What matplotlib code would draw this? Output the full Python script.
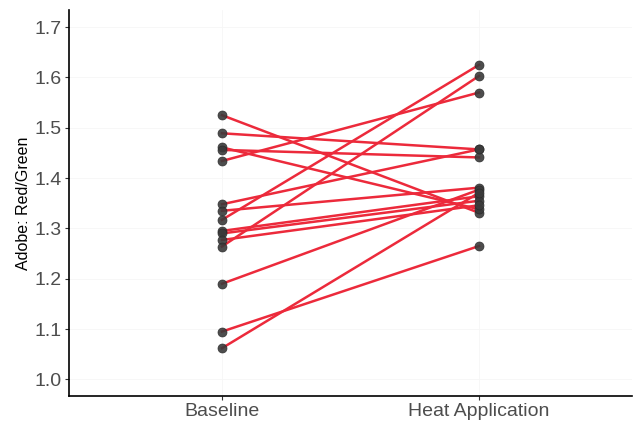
import matplotlib.pyplot as plt

plt.rcParams['font.family'] = ['Liberation Sans', 'DejaVu Sans']

conditions = ["Baseline", "Heat Application"]
baseline = [1.525, 1.489, 1.461, 1.456, 1.434, 1.348, 1.335, 1.317,
            1.295, 1.290, 1.277, 1.264, 1.190, 1.095, 1.062]
heat = [1.331, 1.457, 1.338, 1.441, 1.570, 1.457, 1.381, 1.625,
        1.364, 1.355, 1.346, 1.603, 1.377, 1.265, 1.371]
yticks = [1.0, 1.1, 1.2, 1.3, 1.4, 1.5, 1.6, 1.7]

fig = plt.figure(figsize=(6.35, 4.21), dpi=100)
ax = fig.add_axes([69/635, 25/421, 563/635, 386/421])

x = [1, 2]
for b, h in zip(baseline, heat):
    ax.plot(x, [b, h], color="#ec2a3b", lw=1.8, zorder=2)
ax.scatter([1]*len(baseline), baseline, s=42, color="#3a3a3a", alpha=0.9,
           edgecolors="#2a2a2a", linewidths=0.5, zorder=3)
ax.scatter([2]*len(heat), heat, s=42, color="#3a3a3a", alpha=0.9,
           edgecolors="#2a2a2a", linewidths=0.5, zorder=3)

ax.set_xlim(0.405, 2.595)
ax.set_ylim(0.967, 1.734)
ax.set_xticks(x)
ax.set_xticklabels(conditions)
ax.set_yticks(yticks)
ax.set_yticklabels([f"{v:.1f}" for v in yticks])
ax.set_ylabel("Adobe: Red/Green", fontsize=11.5, color="black")
ax.yaxis.set_label_coords(-0.068, 0.5)

ax.tick_params(axis="both", labelsize=14, labelcolor="#4d4d4d", length=3,
               width=0.8, color="#333333", pad=2)
ax.grid(True, color="#f6f6f6", lw=0.6, zorder=0)
ax.set_axisbelow(True)
for s in ["top", "right"]:
    ax.spines[s].set_visible(False)
for s in ["left", "bottom"]:
    ax.spines[s].set_linewidth(1.2)
    ax.spines[s].set_color("black")

fig.savefig("out.png", dpi=100)
